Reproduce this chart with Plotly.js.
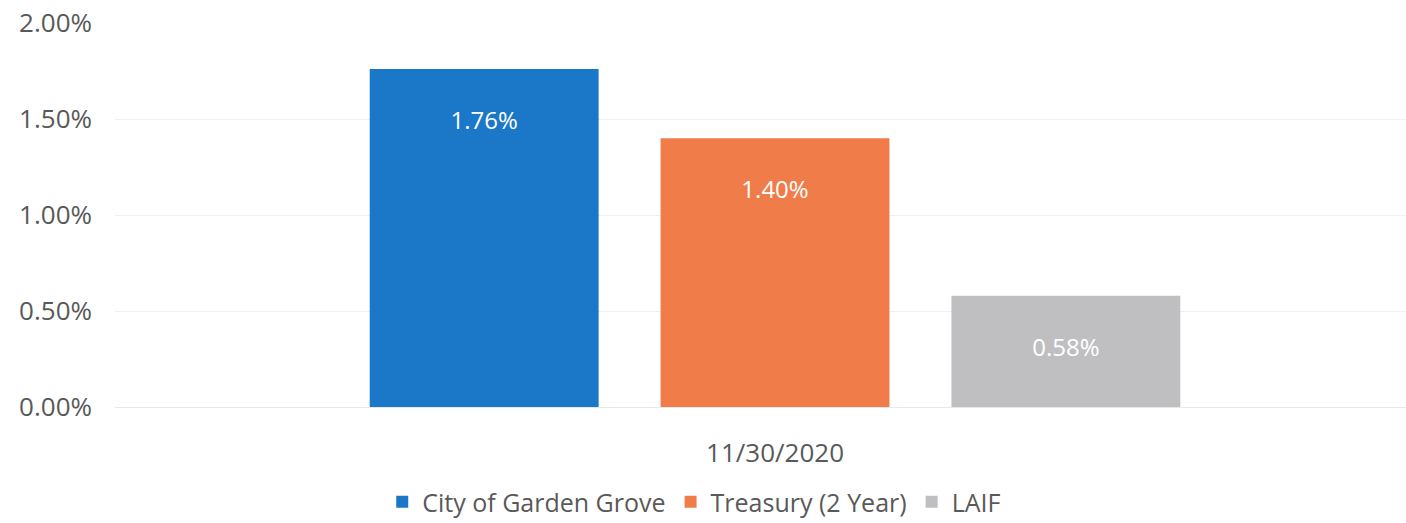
<!DOCTYPE html>
<html>
<head>
<meta charset="utf-8">
<script src="https://cdn.plot.ly/plotly-3.0.1.min.js"></script>
<style>
  html, body { margin: 0; padding: 0; background: #fff; }
  #chart { width: 1406px; height: 523px; }
</style>
</head>
<body>
<div id="chart"></div>
<script>
// data
const dates = ['11/30/2020'];
const seriesNames = ['City of Garden Grove', 'Treasury (2 Year)', 'LAIF'];
const cityYield = [1.76];
const treasuryYield = [1.40];
const laifYield = [0.58];
const yTicks = [0, 0.5, 1.0, 1.5, 2.0];

const colors = ['#1b77c8', '#f07c4a', '#bfbfc2'];
const values = [cityYield, treasuryYield, laifYield];

const traces = seriesNames.map(function(name, i) {
  return {
    type: 'bar',
    name: name,
    x: dates,
    y: values[i],
    marker: { color: colors[i] },
    // blank first line pushes the label down from the bar top
    texttemplate: ' <br>%{y:.2f}%',
    textposition: 'inside',
    insidetextanchor: 'end',
    textangle: 0,
    textfont: { color: '#ffffff', size: 24, family: 'Open Sans, sans-serif' },
    hoverinfo: 'skip'
  };
});

const layout = {
  width: 1406,
  height: 523,
  margin: { l: 115, r: 0, t: 23, b: 116, autoexpand: false },
  paper_bgcolor: '#ffffff',
  plot_bgcolor: '#ffffff',
  font: { family: 'Open Sans, sans-serif', color: '#595959', size: 26 },
  barmode: 'group',
  bargap: 0.339,
  bargroupgap: 0.213,
  showlegend: true,
  legend: {
    orientation: 'h',
    x: 0.207,
    xanchor: 'left',
    yref: 'container',
    y: 0.04,
    yanchor: 'middle',
    font: { size: 25, color: '#595959' },
    traceorder: 'normal'
  },
  xaxis: {
    type: 'category',
    range: [-0.5, 0.478],
    showgrid: false,
    zeroline: false,
    showline: false,
    ticks: '',
    automargin: false,
    ticklabelstandoff: 28,
    tickfont: { size: 26, color: '#595959' }
  },
  yaxis: {
    range: [0, 2.0],
    tickvals: yTicks,
    ticktext: yTicks.map(function(v) { return v.toFixed(2) + '%'; }),
    showgrid: true,
    gridcolor: '#efefef',
    gridwidth: 1,
    zeroline: true,
    zerolinecolor: '#e8e8e8',
    showline: false,
    ticks: '',
    automargin: false,
    ticklabelstandoff: 22,
    tickfont: { size: 26, color: '#595959' }
  }
};

Plotly.newPlot('chart', traces, layout, { displayModeBar: false, staticPlot: true });
</script>
</body>
</html>
